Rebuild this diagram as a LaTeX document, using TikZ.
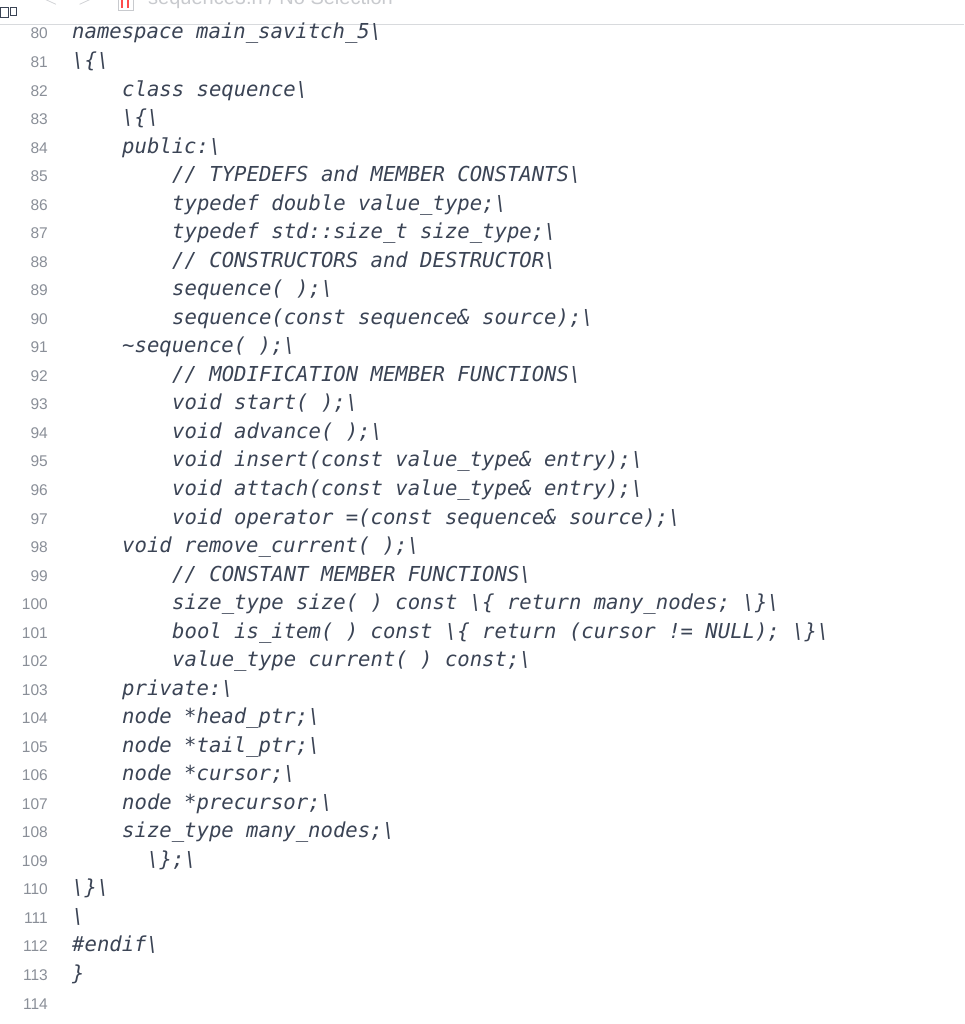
\documentclass[tikz,border=0pt]{standalone}
\usepackage{fontspec}
\setmainfont{Liberation Sans}
\setmonofont{DejaVu Sans Mono}
\definecolor{codec}{HTML}{3B4455}
\definecolor{numc}{HTML}{8A8F98}
\definecolor{hdr}{HTML}{C8CACE}
\tikzset{code/.style={anchor=base west,inner sep=0pt,text=codec,font=\ttfamily\itshape\fontsize{20.6}{20.6}\selectfont},
lnum/.style={anchor=base east,inner sep=0pt,text=numc,font=\fontsize{15.5}{15.5}\selectfont}}
\newcommand\cl[3]{%
\pgfmathsetmacro\yy{1024-39-(#1-80)*28.53}%
\node[lnum] (n#1) at (48,\yy) {#1};%
\node[code] (c#1) at (#2,\yy) {#3};}
\begin{document}
\begin{tikzpicture}[x=1pt,y=1pt]
\useasboundingbox[fill=white] (0,0) rectangle (964,1024);
\begin{scope}
\clip (0,0) rectangle (964,1024);
\node[anchor=base west,inner sep=0pt,text=hdr,font=\fontsize{20}{20}\selectfont] (hdrtext) at (148,1019) {sequence3.h / No Selection};
\node[anchor=base west,inner sep=0pt,text=hdr,font=\fontsize{20}{20}\selectfont] (chev) at (42,1019) {$<$\quad$>$};
\draw[red!70,line width=2pt] (122,1024) -- (122,1016) (128,1024) -- (128,1016);
\draw[hdr] (118,1024) -- (118,1014) -- (133,1014) -- (133,1024);
\draw[codec,line width=1pt] (0,1016) rectangle (8,1006) (10,1016) rectangle (16,1008);
\end{scope}
\draw[hdr!70] (0,1000) -- (964,1000);
\cl{80}{72}{namespace main\_savitch\_5\textbackslash}
\cl{81}{72}{\textbackslash\{\textbackslash}
\cl{82}{122}{class sequence\textbackslash}
\cl{83}{122}{\textbackslash\{\textbackslash}
\cl{84}{122}{public:\textbackslash}
\cl{85}{172}{// TYPEDEFS and MEMBER CONSTANTS\textbackslash}
\cl{86}{172}{typedef double value\_type;\textbackslash}
\cl{87}{172}{typedef std::size\_t size\_type;\textbackslash}
\cl{88}{172}{// CONSTRUCTORS and DESTRUCTOR\textbackslash}
\cl{89}{172}{sequence( );\textbackslash}
\cl{90}{172}{sequence(const sequence\& source);\textbackslash}
\cl{91}{122}{\textasciitilde sequence( );\textbackslash}
\cl{92}{172}{// MODIFICATION MEMBER FUNCTIONS\textbackslash}
\cl{93}{172}{void start( );\textbackslash}
\cl{94}{172}{void advance( );\textbackslash}
\cl{95}{172}{void insert(const value\_type\& entry);\textbackslash}
\cl{96}{172}{void attach(const value\_type\& entry);\textbackslash}
\cl{97}{172}{void operator =(const sequence\& source);\textbackslash}
\cl{98}{122}{void remove\_current( );\textbackslash}
\cl{99}{172}{// CONSTANT MEMBER FUNCTIONS\textbackslash}
\cl{100}{172}{size\_type size( ) const \textbackslash\{ return many\_nodes; \textbackslash\}\textbackslash}
\cl{101}{172}{bool is\_item( ) const \textbackslash\{ return (cursor != NULL); \textbackslash\}\textbackslash}
\cl{102}{172}{value\_type current( ) const;\textbackslash}
\cl{103}{122}{private:\textbackslash}
\cl{104}{122}{node *head\_ptr;\textbackslash}
\cl{105}{122}{node *tail\_ptr;\textbackslash}
\cl{106}{122}{node *cursor;\textbackslash}
\cl{107}{122}{node *precursor;\textbackslash}
\cl{108}{122}{size\_type many\_nodes;\textbackslash}
\cl{109}{147}{\textbackslash\};\textbackslash}
\cl{110}{72}{\textbackslash\}\textbackslash}
\cl{111}{72}{\textbackslash}
\cl{112}{72}{\#endif\textbackslash}
\cl{113}{72}{\}}
\node[lnum] (n114) at (48,{1024-39-34*28.53}) {114};
\end{tikzpicture}
\end{document}
